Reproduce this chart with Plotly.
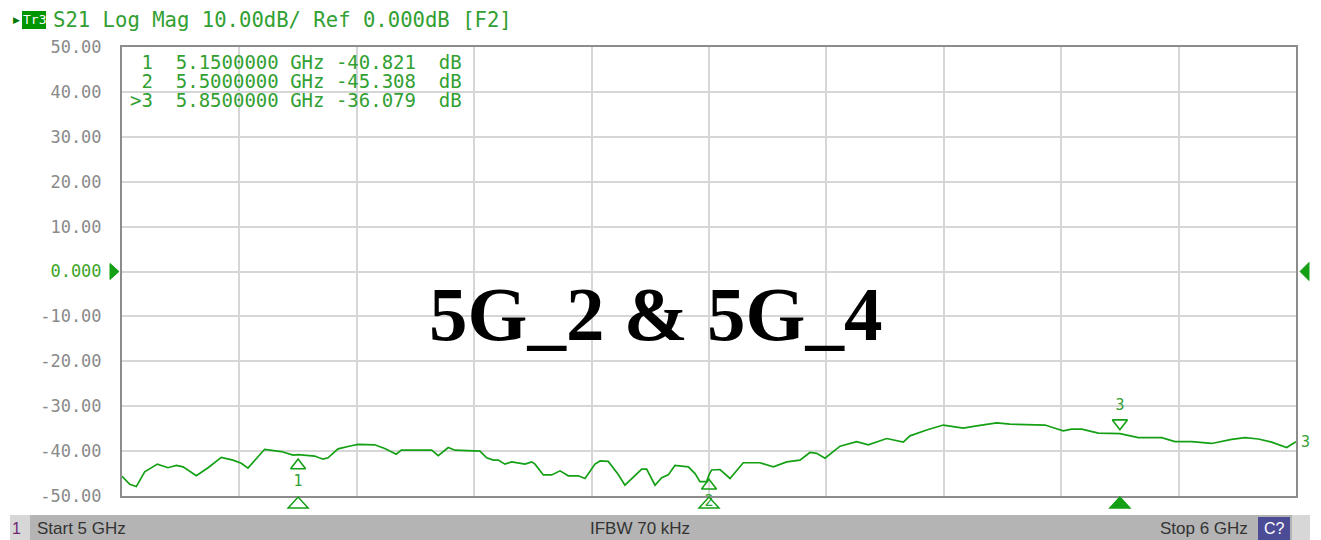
import plotly.graph_objects as go

# ---------------- data ----------------
freq_ghz = [5.0000, 5.0066, 5.0122, 5.0193, 5.0301, 5.0392, 5.0463, 5.0520, 5.0633, 5.0733,
            5.0846, 5.0945, 5.1016, 5.1073, 5.1215, 5.1357, 5.1457, 5.1500, 5.1641, 5.1712,
            5.1755, 5.1840, 5.1953, 5.2010, 5.2152, 5.2238, 5.2336, 5.2379, 5.2521, 5.2638,
            5.2694, 5.2779, 5.2836, 5.3049, 5.3106, 5.3163, 5.3205, 5.3262, 5.3319, 5.3433,
            5.3490, 5.3518, 5.3589, 5.3660, 5.3731, 5.3802, 5.3887, 5.3944, 5.4029, 5.4072,
            5.4142, 5.4227, 5.4284, 5.4427, 5.4469, 5.4540, 5.4597, 5.4653, 5.4710, 5.4824,
            5.4881, 5.4923, 5.4980, 5.5000, 5.5023, 5.5094, 5.5179, 5.5292, 5.5434, 5.5548,
            5.5662, 5.5775, 5.5860, 5.5917, 5.5988, 5.6116, 5.6258, 5.6357, 5.6514, 5.6655,
            5.6712, 5.6854, 5.6996, 5.7166, 5.7280, 5.7451, 5.7564, 5.7862, 5.7947, 5.8018,
            5.8089, 5.8175, 5.8316, 5.8500, 5.8657, 5.8856, 5.8969, 5.9112, 5.9282, 5.9452,
            5.9566, 5.9679, 5.9793, 5.9920, 6.0000]
s21_db = [-45.6, -47.4, -47.9, -44.6, -42.9, -43.7, -43.2, -43.5, -45.5, -43.7,
          -41.4, -42.0, -42.7, -43.8, -39.6, -40.1, -40.9, -40.8, -41.1, -41.8,
          -41.5, -39.5, -38.8, -38.5, -38.6, -39.4, -40.7, -39.8, -39.8, -39.8,
          -41.0, -39.2, -39.8, -40.0, -41.5, -42.0, -42.0, -42.9, -42.4, -42.9,
          -42.4, -42.9, -45.3, -45.3, -44.4, -45.5, -45.5, -46.1, -42.9, -42.2,
          -42.3, -45.2, -47.6, -44.0, -44.0, -47.6, -45.9, -45.3, -43.2, -43.5,
          -45.0, -46.8, -46.8, -45.3, -44.2, -44.1, -46.1, -42.6, -42.6, -43.5,
          -42.4, -42.0, -40.3, -40.5, -41.6, -38.9, -37.9, -38.6, -37.2, -38.0,
          -36.6, -35.3, -34.2, -34.9, -34.4, -33.7, -34.0, -34.2, -34.9, -35.5,
          -35.1, -35.1, -36.0, -36.1, -37.0, -37.0, -37.9, -37.9, -38.3, -37.4,
          -37.0, -37.3, -38.0, -39.2, -37.9]

marker_ids = ["1", "2", "3"]
marker_freqs = [5.15, 5.50, 5.85]
marker_vals = [-40.821, -45.308, -36.079]
active_marker = "3"

y_tick_vals = [50, 40, 30, 20, 10, 0, -10, -20, -30, -40, -50]
y_tick_text = ["50.00", "40.00", "30.00", "20.00", "10.00", "0.000",
               "-10.00", "-20.00", "-30.00", "-40.00", "-50.00"]
x_grid_vals = [5.0, 5.1, 5.2, 5.3, 5.4, 5.5, 5.6, 5.7, 5.8, 5.9, 6.0]
x_range = [5.0, 6.0]
y_range = [-50, 50]

header_text = "S21 Log Mag 10.00dB/ Ref 0.000dB [F2]"
trace_name = "Tr3"
ref_level = 0.0
start_label = "Start 5 GHz"
ifbw_label = "IFBW 70 kHz"
stop_label = "Stop 6 GHz"
title_text = "5G_2 & 5G_4"

# ---------------- layout constants ----------------
W, H = 1321, 540
L, R, T, B = 122, 1296, 47, 496
GREEN = "rgb(20,160,20)"
TXT_GREEN = "rgb(50,160,50)"
MONO = "DejaVu Sans Mono"


def px(p):
    return (p - L) / (R - L)


def py(p):
    return (B - p) / (B - T)


def f2px(f):
    return L + (f - x_range[0]) / (x_range[1] - x_range[0]) * (R - L)


def v2px(v):
    return B - (v - y_range[0]) / (y_range[1] - y_range[0]) * (B - T)


def tri_path(pts):
    return "M " + " L ".join("%.5f,%.5f" % (px(a), py(b)) for a, b in pts) + " Z"


fig = go.Figure()

# main trace
fig.add_trace(go.Scatter(x=freq_ghz, y=s21_db, mode="lines",
                         line=dict(color=GREEN, width=1.7), hoverinfo="skip",
                         showlegend=False))

shapes = []
# on-trace markers and stimulus markers below the axis
for mid, f, v in zip(marker_ids, marker_freqs, marker_vals):
    if mid == active_marker:
        fig.add_trace(go.Scatter(x=[f], y=[v + 2.3], mode="markers+text",
                                 marker=dict(symbol="triangle-down-open", size=13,
                                             color=GREEN, line=dict(width=1.6)),
                                 text=[mid], textposition="top center",
                                 textfont=dict(family=MONO, size=15, color=TXT_GREEN),
                                 cliponaxis=False, showlegend=False, hoverinfo="skip"))
        fill = GREEN
    else:
        fig.add_trace(go.Scatter(x=[f], y=[v - 2.4], mode="markers+text",
                                 marker=dict(symbol="triangle-up-open", size=13,
                                             color=GREEN, line=dict(width=1.6)),
                                 text=[mid], textposition="bottom center",
                                 textfont=dict(family=MONO, size=15, color=TXT_GREEN),
                                 cliponaxis=False, showlegend=False, hoverinfo="skip"))
        fill = "rgba(0,0,0,0)"
    cx = f2px(f)
    shapes.append(dict(type="path", xref="paper", yref="paper",
                       path=tri_path([(cx - 10, B + 12), (cx + 10, B + 12), (cx, B + 1)]),
                       fillcolor=fill, line=dict(color=GREEN, width=1.5)))

# reference level arrows
ry = v2px(ref_level)
shapes.append(dict(type="path", xref="paper", yref="paper",
                   path=tri_path([(L - 12, ry - 8), (L - 12, ry + 8), (L - 3, ry)]),
                   fillcolor=GREEN, line=dict(color=GREEN, width=1)))
shapes.append(dict(type="path", xref="paper", yref="paper",
                   path=tri_path([(R + 13, ry - 9), (R + 13, ry + 9), (R + 4, ry)]),
                   fillcolor=GREEN, line=dict(color=GREEN, width=1)))

ticktext = [("<span style='color:rgb(60,165,40)'>%s</span>" % t) if v == ref_level else t
            for v, t in zip(y_tick_vals, y_tick_text)]

fig.update_layout(
    width=W, height=H,
    margin=dict(l=L, r=W - R, t=T, b=H - B),
    paper_bgcolor="white", plot_bgcolor="white",
    xaxis=dict(range=x_range, tickvals=x_grid_vals, showticklabels=False,
               showgrid=True, gridcolor="#d6d6d6", gridwidth=1.6, zeroline=False,
               showline=True, linecolor="#8c8c8c", linewidth=2, mirror=True),
    yaxis=dict(range=y_range, tickvals=y_tick_vals, ticktext=ticktext,
               showgrid=True, gridcolor="#d6d6d6", gridwidth=1.6, zeroline=False,
               showline=True, linecolor="#8c8c8c", linewidth=2, mirror=True,
               ticks="", ticklabelstandoff=15,
               tickfont=dict(family=MONO, size=17, color="#8a8a8a")),
)

ann = []
# marker table
for i, (mid, f, v) in enumerate(zip(marker_ids, marker_freqs, marker_vals)):
    prefix = ">" if mid == active_marker else " "
    row = "%s%s  %.7f GHz %.3f  dB" % (prefix, mid, f, v)
    ann.append(dict(x=px(128), y=py(62 + i * 19), xref="paper", yref="paper",
                    text=row.replace(" ", "&nbsp;"), showarrow=False,
                    xanchor="left", yanchor="middle",
                    font=dict(family=MONO, size=19, color=TXT_GREEN)))

# header
ann.append(dict(x=px(51), y=py(20), xref="paper", yref="paper",
                text=header_text.replace(" ", "&nbsp;"), showarrow=False,
                xanchor="left", yanchor="middle",
                font=dict(family=MONO, size=20.6, color=TXT_GREEN)))
ann.append(dict(x=px(34), y=py(20), xref="paper", yref="paper", text=trace_name,
                showarrow=False, xanchor="center", yanchor="middle",
                font=dict(family=MONO, size=13, color="white")))
ann.append(dict(x=px(16), y=py(20), xref="paper", yref="paper", text="▶",
                showarrow=False, xanchor="center", yanchor="middle",
                font=dict(family="DejaVu Sans", size=9, color="rgb(0,120,0)")))

# trace number at right end
ann.append(dict(x=freq_ghz[-1], y=s21_db[-1], xref="x", yref="y", text=trace_name[-1],
                showarrow=False, xanchor="left", yanchor="middle", xshift=3,
                font=dict(family=MONO, size=15, color=TXT_GREEN)))

# big title
ann.append(dict(x=px(655), y=py(314), xref="paper", yref="paper",
                text="<b>%s</b>" % title_text, showarrow=False,
                xanchor="center", yanchor="middle",
                font=dict(family="Liberation Serif", size=77, color="black")))

# status bar texts
SB = "Liberation Sans Narrow, Liberation Sans"
ann.append(dict(x=px(16), y=py(528), xref="paper", yref="paper", text="1",
                showarrow=False, xanchor="center", yanchor="middle",
                font=dict(family=SB, size=16, color="rgb(110,40,120)")))
ann.append(dict(x=px(35), y=py(528), xref="paper", yref="paper", text=start_label,
                showarrow=False, xanchor="left", yanchor="middle",
                font=dict(family=SB, size=17, color="#333333")))
ann.append(dict(x=px(640), y=py(528), xref="paper", yref="paper", text=ifbw_label,
                showarrow=False, xanchor="center", yanchor="middle",
                font=dict(family=SB, size=17, color="#333333")))
ann.append(dict(x=px(1250), y=py(528), xref="paper", yref="paper", text=stop_label,
                showarrow=False, xanchor="right", yanchor="middle",
                font=dict(family=SB, size=17, color="#333333")))
ann.append(dict(x=px(1274), y=py(528), xref="paper", yref="paper", text="C?",
                showarrow=False, xanchor="center", yanchor="middle",
                font=dict(family=SB, size=16, color="white")))
fig.update_layout(annotations=ann)

shapes += [
    # header Tr box
    dict(type="rect", xref="paper", yref="paper", x0=px(22), x1=px(46), y0=py(29), y1=py(11),
         fillcolor="rgb(0,150,0)", line=dict(width=0), layer="below"),
    # status bar
    dict(type="rect", xref="paper", yref="paper", x0=px(10), x1=px(30), y0=py(540), y1=py(515),
         fillcolor="rgb(215,215,215)", line=dict(width=0)),
    dict(type="rect", xref="paper", yref="paper", x0=px(30), x1=px(1292), y0=py(540), y1=py(515),
         fillcolor="rgb(180,180,180)", line=dict(width=0)),
    dict(type="rect", xref="paper", yref="paper", x0=px(1258), x1=px(1290), y0=py(540), y1=py(517),
         fillcolor="rgb(75,75,150)", line=dict(width=0)),
    dict(type="rect", xref="paper", yref="paper", x0=px(1292), x1=px(1310), y0=py(540), y1=py(515),
         fillcolor="rgb(215,215,215)", line=dict(width=0)),
]
fig.update_layout(shapes=shapes)

fig.write_html("out.html", config={"displayModeBar": False},
               post_script="document.body.style.margin='0px';")
